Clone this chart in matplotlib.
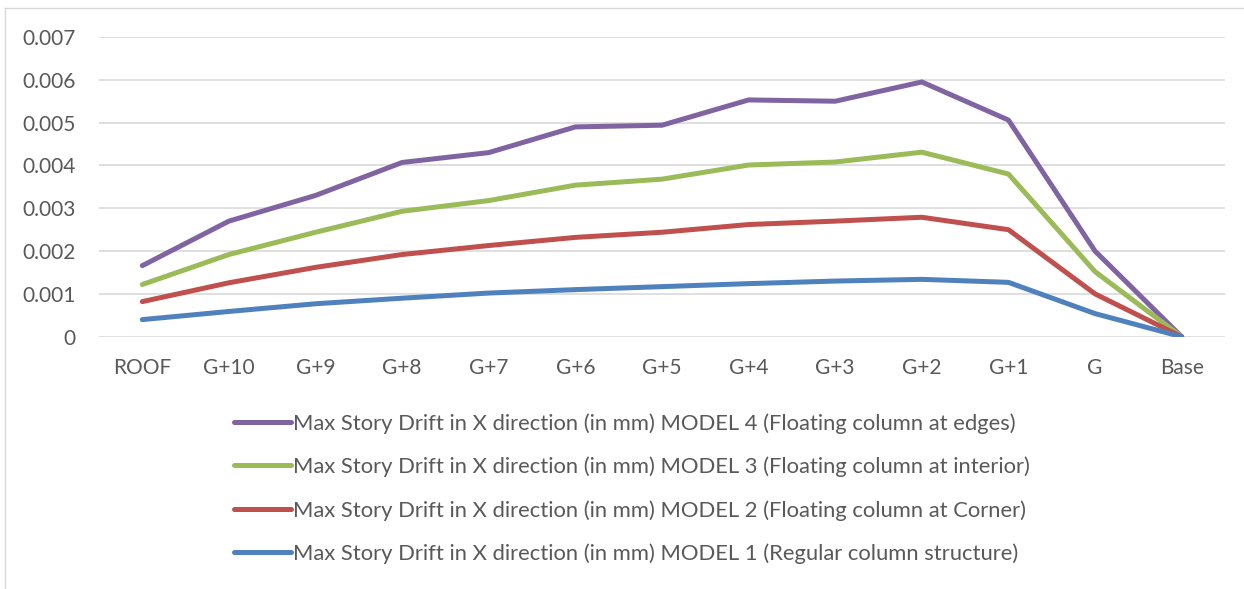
import matplotlib.pyplot as plt
from matplotlib.lines import Line2D

# Storey labels along the x axis, top of building first
storeys = ['ROOF', 'G+10', 'G+9', 'G+8', 'G+7', 'G+6', 'G+5', 'G+4', 'G+3', 'G+2', 'G+1', 'G', 'Base']

# Max story drift in X direction for each model
model4 = [0.00166, 0.00270, 0.00330, 0.00407, 0.00430, 0.00490, 0.00494, 0.00553, 0.00550, 0.00595, 0.00506, 0.00200, 0.0]
model3 = [0.00122, 0.00192, 0.00244, 0.00293, 0.00318, 0.00354, 0.00368, 0.00401, 0.00408, 0.00431, 0.00380, 0.00152, 0.0]
model2 = [0.00082, 0.00126, 0.00162, 0.00192, 0.00213, 0.00232, 0.00244, 0.00262, 0.00270, 0.00279, 0.00250, 0.00100, 0.0]
model1 = [0.00040, 0.00059, 0.00077, 0.00090, 0.00102, 0.00110, 0.00117, 0.00124, 0.00130, 0.00134, 0.00127, 0.00054, 0.0]

labels = ['Max Story Drift in X direction (in mm) MODEL 4 (Floating column at edges)',
          'Max Story Drift in X direction (in mm) MODEL 3 (Floating column at interior)',
          'Max Story Drift in X direction (in mm) MODEL 2 (Floating column at Corner)',
          'Max Story Drift in X direction (in mm) MODEL 1 (Regular column structure)']
colors = ['#8064A2', '#9BBB59', '#C0504D', '#4F81BD']

plt.rcParams['font.family'] = ['Lato', 'DejaVu Sans']
txt = '#595959'

fig = plt.figure(figsize=(12.44, 5.89), dpi=100)
ax = fig.add_axes([0.0796, 0.4283, 0.9051, 0.5089])

x = range(len(storeys))
series = [model4, model3, model2, model1]
for vals, c, lab in zip(series, colors, labels):
    ax.plot(x, vals, color=c, lw=3.6, label=lab, solid_capstyle='round', solid_joinstyle='round')

ax.set_xlim(-0.5, len(storeys) - 0.5)
ax.set_ylim(0, 0.007)
ax.set_yticks([i * 0.001 for i in range(8)])
ax.set_yticklabels(['0'] + ['%.3f' % (i * 0.001) for i in range(1, 8)])
ax.set_xticks(list(x))
ax.set_xticklabels(storeys)
ax.tick_params(axis='both', length=0, labelsize=15, labelcolor=txt)
ax.tick_params(axis='y', pad=17)
ax.tick_params(axis='x', pad=15)
ax.grid(axis='y', color='#d9d9d9', lw=1.2)
ax.set_axisbelow(True)
for s in ax.spines.values():
    s.set_visible(False)

leg = ax.legend(loc='upper left', bbox_to_anchor=(0.1195, -0.255), frameon=False, fontsize=15.8,
                labelcolor=txt, handlelength=2.6, handletextpad=0.12, labelspacing=1.04,
                borderaxespad=0, borderpad=0)

# chart border, only the top and left edges show
fy = 1 - 8 / 589
fx = 4.5 / 1244
fig.lines.append(Line2D([fx, 1], [fy, fy], transform=fig.transFigure, color='#d9d9d9', lw=1))
fig.lines.append(Line2D([fx, fx], [0, fy], transform=fig.transFigure, color='#d9d9d9', lw=1))

plt.savefig('out.png')
plt.close()
